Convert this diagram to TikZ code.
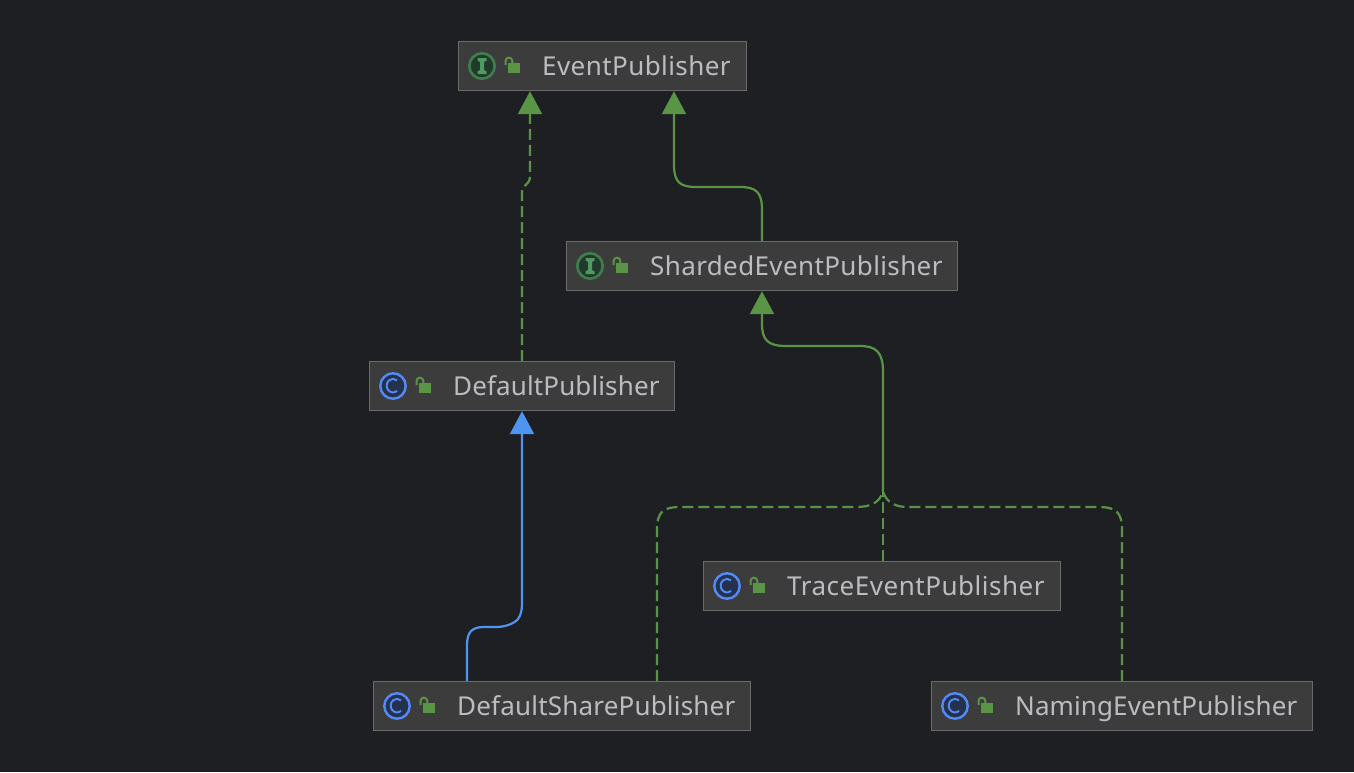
\documentclass[tikz,border=0pt]{standalone}
\usepackage{fontspec}
\setmainfont{Noto Sans}
\usetikzlibrary{arrows.meta,calc}
\definecolor{bgc}{HTML}{1E1F22}
\definecolor{boxfill}{HTML}{3C3C3C}
\definecolor{boxline}{HTML}{6B6B6B}
\definecolor{txt}{HTML}{BCBDC2}
\definecolor{grn}{HTML}{5A9445}
\definecolor{blu}{HTML}{4F94F0}
\definecolor{icng}{HTML}{3F7F4E}
\definecolor{icngi}{HTML}{4F9A5E}
\definecolor{icngf}{HTML}{223A2B}
\definecolor{icnb}{HTML}{548AF7}
\definecolor{icnbf}{HTML}{25324D}
\tikzset{
  x=1pt,y=-1pt,
  classbox/.style={draw=boxline,fill=boxfill,line width=1.2pt,anchor=north west,inner sep=0pt,minimum height=48.8pt},
  classlabel/.style={anchor=base west,inner sep=0pt,text=txt,font=\fontsize{26}{30}\selectfont\addfontfeature{LetterSpace=#1}},
  realize/.style={draw=grn,line width=2.2pt,dash pattern=on 11pt off 5pt,-{Triangle[length=23pt,width=24pt,fill=grn]}},
  branch/.style={draw=grn,line width=2.2pt,dash pattern=on 11pt off 5pt},
  extend/.style={draw=grn,line width=2.2pt,-{Triangle[length=23pt,width=24pt,fill=grn]}},
  extendb/.style={draw=blu,line width=2.2pt,-{Triangle[length=23pt,width=24pt,fill=blu]}},
}
\newcommand{\lockicon}[2]{%
  \fill[grn] (#1+2.5,#2-3.3) rectangle (#1+15,#2+7.3);
  \draw[grn,line width=2pt] (#1+0.5,#2-1) -- (#1+0.5,#2-5) arc[start angle=180,end angle=360,radius=3.4] -- (#1+7.3,#2-3);
}
\newcommand{\classicon}[2]{% C
  \draw[icnb,fill=icnbf,line width=2.4pt] (#1+23,#2) circle[radius=12.7];
  \draw[icnb,line width=1.9pt] (#1+23,#2) ++(50:6.3) arc[start angle=50,end angle=310,radius=6.3,y radius=6.8];
  \lockicon{#1+46}{#2}
}
\newcommand{\ifaceicon}[2]{% I
  \draw[icng,fill=icngf,line width=2.6pt] (#1+23,#2) circle[radius=12.7];
  \fill[icngi] (#1+18.5,#2-8) -- (#1+27.5,#2-8) -- (#1+27.5,#2-5.5) -- (#1+25,#2-4) -- (#1+25,#2+4) -- (#1+27.5,#2+5.5) -- (#1+27.5,#2+8) -- (#1+18.5,#2+8) -- (#1+18.5,#2+5.5) -- (#1+21,#2+4) -- (#1+21,#2-4) -- (#1+18.5,#2-5.5) -- cycle;
  \lockicon{#1+46}{#2}
}
\begin{document}
\begin{tikzpicture}
\useasboundingbox (0,0) rectangle (1354,772);
\fill[bgc] (0,0) rectangle (1354,772);

\node[classbox,minimum width=287.8pt] (ep) at (458.2,41.2) {};
\ifaceicon{459}{66}
\node[classlabel=1.65] (eplabel) at (542,75) {EventPublisher};

\node[classbox,minimum width=390.8pt] (sp) at (566.2,241.2) {};
\ifaceicon{567}{266}
\node[classlabel=1.46] (splabel) at (650,275) {ShardedEventPublisher};

\node[classbox,minimum width=304.8pt] (dp) at (369.2,361.2) {};
\classicon{370}{386}
\node[classlabel=0.48] (dplabel) at (453,395) {DefaultPublisher};

\node[classbox,minimum width=356.8pt] (tp) at (703.2,561.2) {};
\classicon{704}{586}
\node[classlabel=2.0] (tplabel) at (787,595) {TraceEventPublisher};

\node[classbox,minimum width=376.8pt] (ds) at (373.2,681.2) {};
\classicon{374}{706}
\node[classlabel=0.73] (dslabel) at (457,715) {DefaultSharePublisher};

\node[classbox,minimum width=380.8pt] (np) at (931.2,681.2) {};
\classicon{932}{706}
\node[classlabel=0.38] (nplabel) at (1015,715) {NamingEventPublisher};

\coordinate (junction) at (883,491);

% DefaultPublisher -> EventPublisher
\draw[realize] ($(dp.north west)+(152.8,0)$) -- (522,192) .. controls (522,184) and (530,186) .. (530,176) -- ($(ep.south west)+(71.8,0)$);
% ShardedEventPublisher -> EventPublisher
\draw[extend] ($(sp.north west)+(195.8,0)$) -- (762,210) .. controls (762,192) and (756,187) .. (740,187) -- (696,187) .. controls (680,187) and (674,182) .. (674,165) -- ($(ep.south west)+(215.8,0)$);
% DefaultSharePublisher -> DefaultPublisher
\draw[extendb] ($(ds.north west)+(93.8,0)$) -- (467,645) .. controls (467,632) and (472,627) .. (484,627) -- (496,627) .. controls (506,627) and (515,623) .. (518,619) .. controls (521,615) and (522,610) .. (522,603) -- ($(dp.south west)+(152.8,0)$);
% implementers -> ShardedEventPublisher
\draw[branch] ($(tp.north west)+(179.8,0)$) -- (junction);
\draw[branch] ($(ds.north west)+(283.8,0)$) -- (657,530) .. controls (657,512) and (663,507) .. (680,507) -- (856,507) .. controls (870,507) and (880,503) .. (junction);
\draw[branch] ($(np.north west)+(190.8,0)$) -- (1122,530) .. controls (1122,512) and (1116,507) .. (1098,507) -- (908,507) .. controls (896,507) and (886,503) .. (junction);
\draw[extend] (junction) -- (883,372) .. controls (883,352) and (876,346) .. (860,346) -- (786,346) .. controls (768,346) and (762,340) .. (762,324) -- ($(sp.south west)+(195.8,0)$);
\end{tikzpicture}
\end{document}
